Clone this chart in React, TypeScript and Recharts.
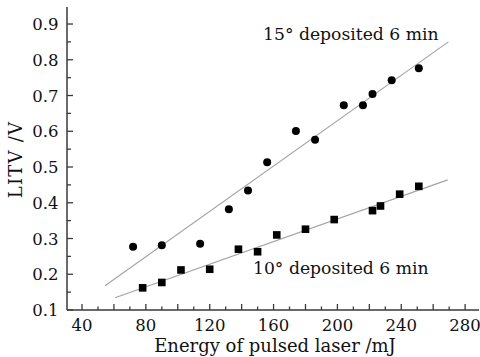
import React from "react";
import {
  ScatterChart,
  Scatter,
  XAxis,
  YAxis,
  ReferenceLine,
  ReferenceDot,
} from "recharts";

const circleX = [72, 90, 114, 132, 144, 156, 174, 186, 204, 216, 222, 234, 251];
const circleY = [0.277, 0.281, 0.285, 0.382, 0.434, 0.513, 0.601, 0.576, 0.673, 0.673, 0.704, 0.743, 0.776];
const squareX = [78, 90, 102, 120, 138, 150, 162, 180, 198, 222, 227, 239, 251];
const squareY = [0.162, 0.177, 0.212, 0.214, 0.27, 0.263, 0.31, 0.326, 0.353, 0.378, 0.391, 0.424, 0.446];

const fit15X = [54.4, 269.5];
const fit15Y = [0.168, 0.85];
const fit10X = [60.7, 269.1];
const fit10Y = [0.134, 0.464];

const xTicks = [40, 50, 60, 70, 80, 90, 100, 110, 120, 130, 140, 150, 160, 170, 180, 190, 200, 210, 220, 230, 240, 250, 260, 270, 280];
const yTicks = [0.1, 0.15, 0.2, 0.25, 0.3, 0.35, 0.4, 0.45, 0.5, 0.55, 0.6, 0.65, 0.7, 0.75, 0.8, 0.85, 0.9];

const label15 = "15° deposited 6 min";
const label10 = "10° deposited 6 min";
const label15Pos = { x: 153.4, y: 0.855 };
const label10Pos = { x: 147.1, y: 0.2007 };
const xTitle = "Energy of pulsed laser /mJ";
const yTitle = "LITV /V";

const circles = circleX.map((x, i) => ({ x, y: circleY[i] }));
const squares = squareX.map((x, i) => ({ x, y: squareY[i] }));

const FONT = "'DejaVu Serif', serif";
const AXIS = "#3a3a3a";

const XTick = (props: any) => {
  const { x, y, payload } = props;
  const v = payload.value as number;
  const long = v % 20 === 0;
  const showLabel = v % 40 === 0;
  return (
    <g>
      <line x1={x} x2={x} y1={y} y2={y - (long ? 6 : 3.5)} stroke={AXIS} strokeWidth={1.3} />
      {showLabel && (
        <text x={x} y={y + 21} textAnchor="middle" fontFamily={FONT} fontSize={16.5} fill="#111">
          {v}
        </text>
      )}
    </g>
  );
};

const YTick = (props: any) => {
  const { x, y, payload } = props;
  const v = payload.value as number;
  const major = Math.round(v * 100) % 10 === 0;
  return (
    <g>
      <line x1={x} x2={x + (major ? 6 : 4)} y1={y} y2={y} stroke={AXIS} strokeWidth={1.3} />
      {major && (
        <text x={x - 8.5} y={y + 6} textAnchor="end" fontFamily={FONT} fontSize={16.5} fill="#111">
          {v.toFixed(1)}
        </text>
      )}
    </g>
  );
};

const Circle = (p: any) => <circle cx={p.cx} cy={p.cy} r={4} fill="#000" />;
const Square = (p: any) => <rect x={p.cx - 3.8} y={p.cy - 3.8} width={7.6} height={7.6} fill="#000" />;

const textLabel = (text: string) => (p: any) => {
  const vb = p.viewBox || {};
  return (
    <text x={vb.x} y={vb.y} textAnchor="start" fontFamily={FONT} fontSize={17.2} fill="#111">
      {text}
    </text>
  );
};

const YTitle = (p: any) => {
  const vb = p.viewBox || {};
  const cx = 15;
  const cy = vb.y + vb.height / 2 + 1;
  return (
    <text
      x={cx}
      y={cy}
      transform={`rotate(-90, ${cx}, ${cy})`}
      textAnchor="middle"
      dominantBaseline="central"
      fontFamily={FONT}
      fontSize={18}
      letterSpacing={1.2}
      fill="#111"
    >
      {yTitle}
    </text>
  );
};

const XTitle = (p: any) => {
  const vb = p.viewBox || {};
  return (
    <text x={vb.x + vb.width / 2 + 2} y={352} textAnchor="middle" fontFamily={FONT} fontSize={18} fill="#111">
      {xTitle}
    </text>
  );
};

export default function App() {
  return (
    <div style={{ position: "absolute", left: 0, top: 0, background: "#fff" }}>
      <ScatterChart width={480} height={357} margin={{ top: 7, right: 1, bottom: 0, left: 0 }}>
        <XAxis
          xAxisId="b"
          type="number"
          dataKey="x"
          domain={[30.6, 288.7]}
          ticks={xTicks}
          interval={0}
          allowDataOverflow
          tickSize={0}
          tickMargin={0}
          tickLine={false}
          tick={<XTick />}
          axisLine={{ stroke: AXIS, strokeWidth: 1.5 }}
          height={47}
          label={<XTitle />}
        />
        <XAxis xAxisId="t" orientation="top" type="number" domain={[30.6, 288.7]} height={0} tick={false} tickLine={false} axisLine={{ stroke: AXIS, strokeWidth: 1.4 }} />
        <YAxis
          yAxisId="l"
          type="number"
          dataKey="y"
          domain={[0.1, 0.9476]}
          ticks={yTicks}
          interval={0}
          allowDataOverflow
          tickSize={0}
          tickMargin={0}
          tickLine={false}
          tick={<YTick />}
          axisLine={{ stroke: AXIS, strokeWidth: 1.5 }}
          width={67}
          label={<YTitle />}
        />
        <YAxis yAxisId="r" orientation="right" type="number" domain={[0.1, 0.9476]} width={0} tick={false} tickLine={false} axisLine={{ stroke: AXIS, strokeWidth: 1.4 }} />
        <ReferenceLine
          xAxisId="b"
          yAxisId="l"
          segment={[{ x: fit15X[0], y: fit15Y[0] }, { x: fit15X[1], y: fit15Y[1] }]}
          stroke="#a3a3a3"
          strokeWidth={1.1}
        />
        <ReferenceLine
          xAxisId="b"
          yAxisId="l"
          segment={[{ x: fit10X[0], y: fit10Y[0] }, { x: fit10X[1], y: fit10Y[1] }]}
          stroke="#a3a3a3"
          strokeWidth={1.1}
        />
        <Scatter xAxisId="b" yAxisId="l" data={circles} shape={<Circle />} isAnimationActive={false} />
        <Scatter xAxisId="b" yAxisId="l" data={squares} shape={<Square />} isAnimationActive={false} />
        <ReferenceDot xAxisId="b" yAxisId="l" x={label15Pos.x} y={label15Pos.y} r={0} fill="none" stroke="none" label={textLabel(label15)} />
        <ReferenceDot xAxisId="b" yAxisId="l" x={label10Pos.x} y={label10Pos.y} r={0} fill="none" stroke="none" label={textLabel(label10)} />
      </ScatterChart>
    </div>
  );
}
